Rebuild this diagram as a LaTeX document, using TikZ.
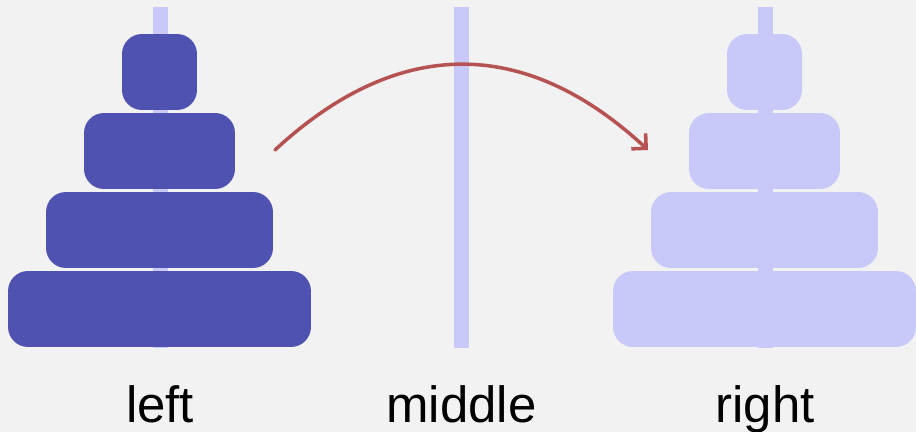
\documentclass[tikz,border=0pt]{standalone}
\usepackage{fontspec}
\setmainfont{Liberation Sans}
\usepackage{xcolor}
\usetikzlibrary{arrows.meta}

\definecolor{diskdark}{HTML}{5052B2}
\definecolor{disklight}{HTML}{C9C9F9}
\definecolor{movered}{HTML}{B65252}
\definecolor{bggray}{HTML}{F2F2F2}

\tikzset{
  peg/.style={fill=disklight, draw=none, minimum width=0.3cm, minimum height=6.82cm, inner sep=0pt},
  disk/.style={rounded corners=0.4cm, minimum height=1.52cm, inner sep=0pt, draw=none},
  rodlabel/.style={anchor=base, font=\fontsize{29}{34}\selectfont}
}

\begin{document}
\begin{tikzpicture}[x=0.02cm, y=-0.02cm]

\fill[bggray] (0,0) rectangle (916,432);
\useasboundingbox (0,0) rectangle (916,432);

% pegs
\node[peg] (pegL) at (160,177.5) {};
\node[peg] (pegM) at (461.5,177.5) {};
\node[peg] (pegR) at (765,177.5) {};

% left tower
\node[disk, fill=diskdark, minimum width=1.5cm] (L1) at (159.5,72) {};
\node[disk, fill=diskdark, minimum width=3.02cm] (L2) at (159.5,151) {};
\node[disk, fill=diskdark, minimum width=4.54cm] (L3) at (159.5,230) {};
\node[disk, fill=diskdark, minimum width=6.06cm] (L4) at (159.5,309) {};

% right tower
\node[disk, fill=disklight, minimum width=1.5cm] (R1) at (764.5,72) {};
\node[disk, fill=disklight, minimum width=3.02cm] (R2) at (764.5,151) {};
\node[disk, fill=disklight, minimum width=4.54cm] (R3) at (764.5,230) {};
\node[disk, fill=disklight, minimum width=6.06cm] (R4) at (764.5,309) {};

% move
\coordinate (from) at (275,150);
\coordinate (to) at (648,150);
\coordinate (c1) at (398,36);
\coordinate (c2) at (525,36);
\draw[movered, line width=2pt, line cap=round,
  -{Straight Barb[length=6pt, width=12pt, line width=2pt]}]
  (from) .. controls (c1) and (c2) .. (to);

% labels
\node[rodlabel] (left) at (160,422) {left};
\node[rodlabel] (middle) at (461.5,422) {middle};
\node[rodlabel] (right) at (765,422) {right};

\end{tikzpicture}
\end{document}
